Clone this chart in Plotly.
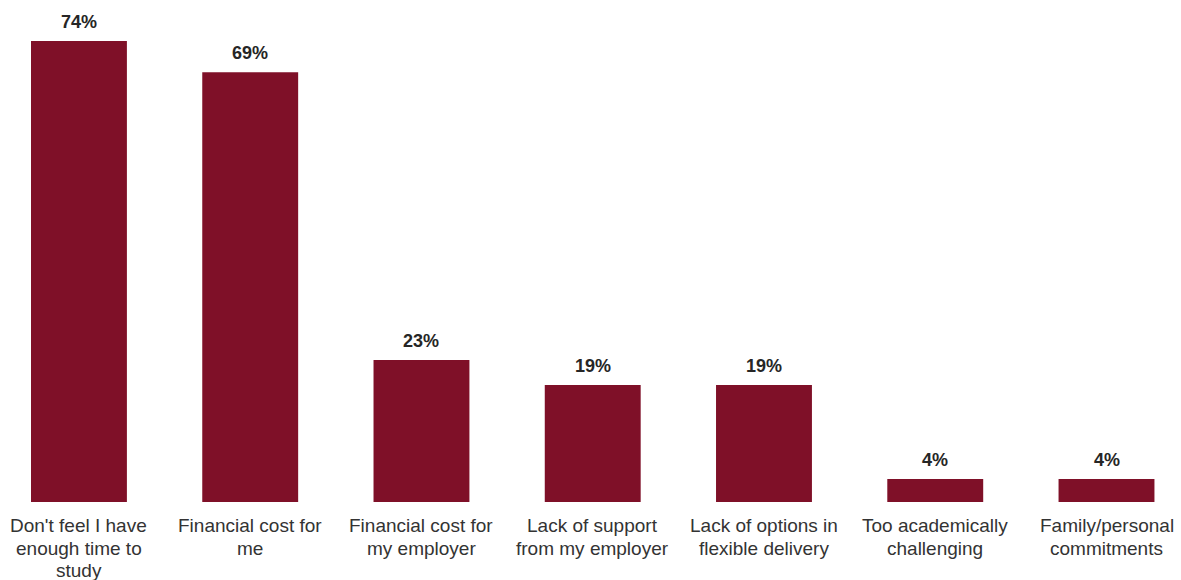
import plotly.graph_objects as go

categories = [
    "Don't feel I have<br>enough time to<br>study",
    "Financial cost for<br>me",
    "Financial cost for<br>my employer",
    "Lack of support<br>from my employer",
    "Lack of options in<br>flexible delivery",
    "Too academically<br>challenging",
    "Family/personal<br>commitments",
]
values = [74, 69, 22.8, 18.8, 18.8, 3.7, 3.7]
labels = [f"{round(v)}%" for v in values]

FONT = "Liberation Sans, Arial, sans-serif"

fig = go.Figure(go.Bar(
    x=categories,
    y=values,
    marker=dict(color="#7F1028", line=dict(width=0)),
    width=0.56,
    cliponaxis=False,
    hoverinfo="skip",
))

for c, v, t in zip(categories, values, labels):
    fig.add_annotation(
        x=c, y=v, text=t, showarrow=False, yanchor="bottom", yshift=7,
        font=dict(family=FONT, size=18, color="#262626", weight="bold"),
    )

# category labels, one line each, to match the tighter line spacing
for c in categories:
    for i, line in enumerate(c.split("<br>")):
        fig.add_annotation(
            x=c, y=0, xref="x", yref="paper", text=line, showarrow=False,
            yanchor="top", yshift=-(11 + 22.5 * i),
            font=dict(family=FONT, size=19, color="#333333"),
        )

fig.update_layout(
    width=1181, height=580,
    margin=dict(l=0, r=0, t=0, b=78, autoexpand=False),
    paper_bgcolor="white", plot_bgcolor="white",
    showlegend=False,
    font=dict(family=FONT, size=19, color="#333333"),
    xaxis=dict(range=[-0.461, 6.435], showgrid=False, showline=False, zeroline=False,
               ticks="", automargin=False, showticklabels=False),
    yaxis=dict(range=[0, 80.6], visible=False, automargin=False),
)

fig.write_html("out.html", config={"displayModeBar": False},
               post_script="document.body.style.margin='0';document.body.style.padding='0';")
